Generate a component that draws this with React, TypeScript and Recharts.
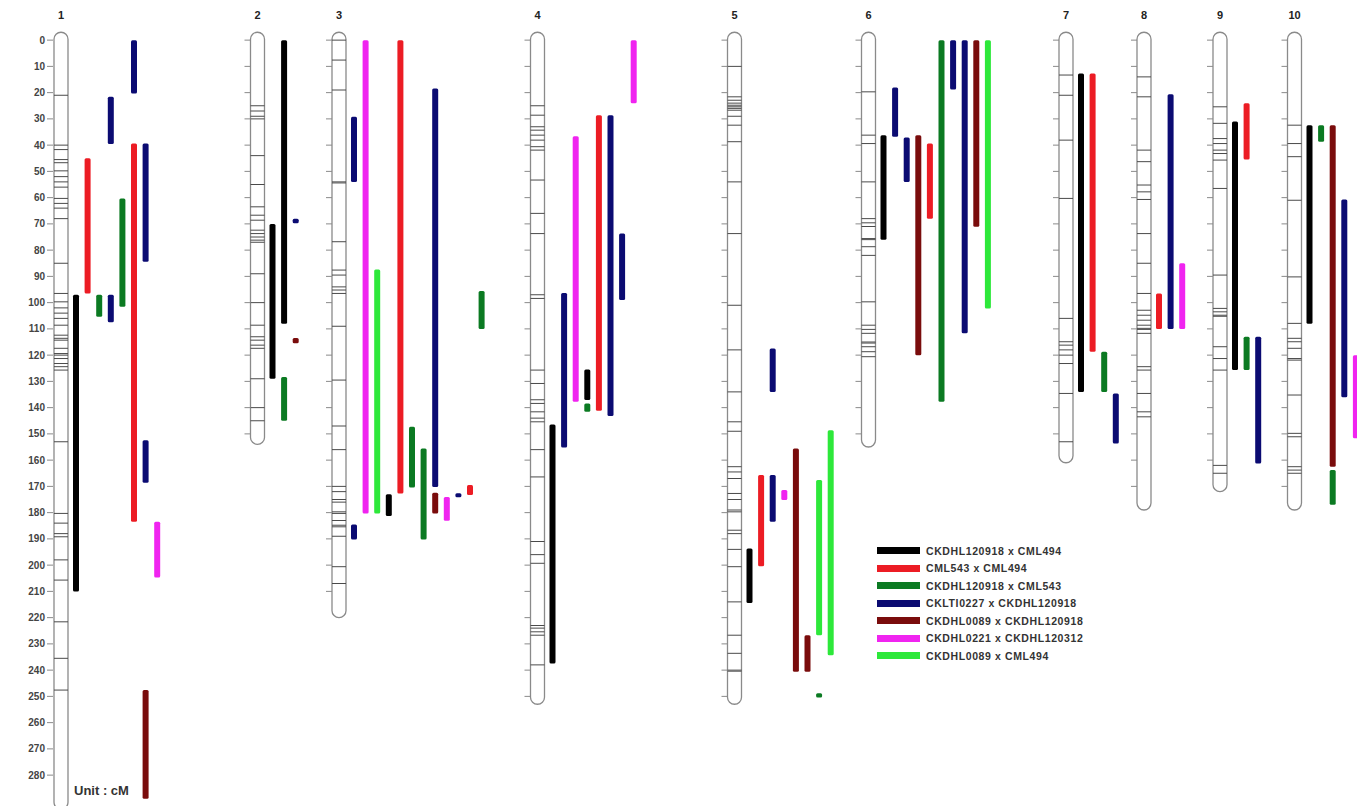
import React from 'react';
import { ComposedChart, XAxis, YAxis, Scatter, ReferenceArea } from 'recharts';

const CHROMOSOMES = ['1', '2', '3', '4', '5', '6', '7', '8', '9', '10'];
const CHROM_CENTER = [61, 257.5, 339, 537.5, 734.5, 868.5, 1066, 1144, 1220, 1294.5];
const CHROM_LENGTH = [290, 151, 217, 250, 250, 152, 158, 176, 169, 176];

const AXIS_TICKS = [
  0, 10, 20, 30, 40, 50, 60, 70, 80, 90, 100, 110, 120, 130, 140, 150, 160, 170, 180, 190, 200, 210, 220, 230,
  240, 250, 260, 270, 280,
];

// marker positions (cM) on each linkage group
const MARKERS: number[][] = [
  [21, 40, 41.7, 45.5, 46.7, 49.8, 52, 54, 56, 60.3, 62.2, 64, 68, 85, 96.5, 99.7, 102, 104, 106, 108.6, 112.4, 113.6,
    114.3, 117.4, 119.4, 120, 121.3, 123.2, 124.4, 125.7, 153, 180.3, 184, 188, 189.2, 198, 205.7, 221.6, 235.5, 247.6],
  [25, 27, 29, 30, 44, 55, 63.5, 66.7, 68.6, 72.4, 73.7, 75, 76.2, 77, 89, 100, 108.6, 113, 114.3, 116.2, 117.4, 129,
    140, 145],
  [0, 7.6, 19, 54, 54.4, 76.8, 87.6, 89.5, 94, 95.2, 96.5, 109, 129.5, 147, 156, 170, 172, 175, 176, 179.7, 180.3, 183,
    184.8, 185.4, 189, 200.6, 207],
  [25, 28.6, 33, 34.3, 36.2, 38.1, 40.6, 41.9, 53.3, 66, 73.7, 97, 98.4, 125.7, 130.8, 137, 138.4, 141.6, 144, 145.4,
    156, 166.4, 191, 196, 199.3, 223, 224, 225.4, 226.7, 238],
  [10, 21.6, 22.9, 24, 24.8, 25.4, 26, 26.7, 29, 32.4, 38.7, 54, 73.7, 101, 118, 134, 145.4, 149, 162.5, 164.5, 167,
    172.7, 175, 179, 179.7, 186.7, 188, 194, 200.6, 214, 226.7, 233.6, 240, 240.4],
  [19.7, 36.2, 39.4, 54, 68, 69.6, 71, 75.6, 76, 78.7, 82, 99.7, 108.6, 110.2, 111.7, 115, 115.4, 116.8, 118.7, 120.6],
  [13.3, 21, 38.1, 60.3, 106, 114.9, 116.2, 118, 120, 123.2, 134.6, 153],
  [14, 21.6, 41.9, 46.3, 55.2, 57.8, 60.7, 73.7, 85, 96.5, 102.9, 104.8, 106.7, 108.6, 109.8, 110.2, 111.7, 124.4,
    125.7, 134.6, 141.6, 143.5],
  [25.4, 31.7, 37.5, 39.4, 41.9, 43.2, 45.7, 56.5, 89.5, 102.2, 103.5, 104.8, 105.2, 116.8, 121.3, 125.7, 162, 165],
  [32.4, 39.4, 44.4, 61, 90.2, 107.9, 113.6, 114.9, 117.4, 121.3, 121.9, 135.2, 149.8, 151.1, 162.5, 163.8, 165],
];

const CROSS_NAMES = [
  'CKDHL120918 x CML494',
  'CML543 x CML494',
  'CKDHL120918 x CML543',
  'CKLTI0227 x CKDHL120918',
  'CKDHL0089 x CKDHL120918',
  'CKDHL0221 x CKDHL120312',
  'CKDHL0089 x CML494',
];
const CROSS_COLORS = ['#000000', '#ec1c24', '#0b7a22', '#0b0b72', '#7a0c0c', '#f024f0', '#2de83a'];

// [chromosome, column, start cM, end cM]
const QTL_CROSS1 = [
  [1, 0, 97, 210], [2, 0, 70, 129], [2, 1, 0, 108], [3, 3, 173, 181.3], [4, 3, 125.5, 137.1], [4, 0, 146.4, 237.5],
  [5, 0, 193.7, 214.4], [6, 0, 36.2, 76], [7, 0, 12.7, 134], [9, 0, 31, 125.7], [10, 0, 32.4, 108],
];
const QTL_CROSS2 = [
  [1, 1, 45, 96.5], [1, 5, 39.4, 183.5], [3, 4, 0, 172.7], [3, 10, 169.5, 173.3], [4, 4, 28.6, 141.2],
  [5, 1, 165.7, 200.4], [6, 4, 39.4, 68], [7, 1, 12.7, 118.7], [8, 0, 96.5, 110], [9, 1, 24, 45.5],
];
const QTL_CROSS3 = [
  [1, 2, 97, 105.4], [1, 4, 60.3, 101.6], [2, 1, 128.3, 145], [3, 11, 95.6, 110], [3, 5, 147.3, 170.4],
  [3, 6, 155.6, 190.2], [4, 3, 138.4, 141.6], [5, 6, 248.8, 250.4], [6, 5, 0, 137.8], [7, 2, 118.7, 134],
  [9, 1, 113, 125.7], [10, 1, 32.4, 38.7], [10, 2, 163.8, 177],
];
const QTL_CROSS4 = [
  [1, 3, 21.6, 39.6], [1, 3, 97, 107.5], [1, 5, 0, 20.3], [1, 6, 39.4, 84.4], [1, 6, 152.4, 168.6], [2, 2, 68, 69.8],
  [3, 0, 29.2, 54], [3, 7, 18.4, 170.2], [3, 0, 184.5, 190.2], [3, 9, 172.6, 174], [4, 5, 28.6, 143.2],
  [4, 6, 73.7, 99], [4, 1, 96.3, 155.2], [5, 2, 117.5, 134], [5, 2, 165.7, 183.5], [6, 1, 18, 36.8],
  [6, 2, 37.1, 54], [6, 6, 0, 18.8], [6, 7, 0, 111.7], [7, 3, 134.6, 153.7], [8, 1, 20.6, 110], [9, 2, 113, 161.3],
  [10, 3, 60.7, 136],
];
const QTL_CROSS5 = [
  [1, 6, 247.6, 289], [2, 2, 113.5, 115.5], [3, 7, 172.4, 180.3], [5, 4, 155.6, 240.6], [5, 5, 226.7, 240.6],
  [6, 3, 36.2, 120], [6, 8, 0, 71.1], [10, 2, 32.4, 162.5],
];
const QTL_CROSS6 = [
  [1, 7, 183.5, 204.7], [3, 1, 0, 180.3], [3, 8, 174, 183.1], [4, 7, 0, 24], [4, 2, 36.6, 137.8],
  [5, 3, 171.4, 175.2], [8, 2, 85, 110], [10, 4, 120, 151.7],
];
const QTL_CROSS7 = [
  [3, 2, 87.4, 180.3], [5, 6, 167.6, 226.7], [5, 7, 148.6, 234.3], [6, 9, 0, 102.2],
];
const QTLS = [QTL_CROSS1, QTL_CROSS2, QTL_CROSS3, QTL_CROSS4, QTL_CROSS5, QTL_CROSS6, QTL_CROSS7];

const HALF = 7;
const colX = (chrom: number, col: number) => CHROM_CENTER[chrom - 1] + 15 + col * 11.6;

const markerPoints = MARKERS.flatMap((list, i) => list.map((y) => ({ x: CHROM_CENTER[i], y })));
const scalePoints = CHROM_LENGTH.flatMap((len, i) =>
  i === 0
    ? []
    : Array.from({ length: Math.floor(len / 10) + 1 }, (_, k) => ({ x: CHROM_CENTER[i], y: k * 10 })),
);

const MarkerShape = (p: any) => (
  <line x1={p.cx - HALF} x2={p.cx + HALF} y1={p.cy} y2={p.cy} stroke="#4a4a4a" strokeWidth={1} />
);
const ScaleShape = (p: any) => (
  <line x1={p.cx - HALF - 6} x2={p.cx - HALF} y1={p.cy} y2={p.cy} stroke="#8a8a8a" strokeWidth={1} />
);

function LegendBox() {
  return (
    <div
      style={{
        position: 'absolute',
        left: 877,
        top: 542,
        fontFamily: 'Arial, "Liberation Sans", sans-serif',
      }}
    >
      {CROSS_NAMES.map((name, i) => (
        <div key={name} style={{ display: 'flex', alignItems: 'center', height: 17.5 }}>
          <span style={{ width: 43, height: 7, background: CROSS_COLORS[i], display: 'inline-block', marginRight: 6 }} />
          <span style={{ fontSize: 10.5, fontWeight: 'bold', color: '#333', letterSpacing: 0.6 }}>{name}</span>
        </div>
      ))}
    </div>
  );
}

export default function App() {
  return (
    <div style={{ position: 'absolute', left: 0, top: 0, width: 1357, height: 806, background: '#fff' }}>
      <ComposedChart width={1357} height={806} margin={{ top: 0, right: 0, bottom: 2, left: 0 }}>
        <XAxis
          type="number"
          dataKey="x"
          orientation="top"
          domain={[53, 1357]}
          allowDataOverflow
          ticks={CHROM_CENTER}
          interval={0}
          tickFormatter={(v) => CHROMOSOMES[CHROM_CENTER.indexOf(v)]}
          axisLine={false}
          tickLine={false}
          height={27}
          tick={{ fontSize: 11, fontWeight: 'bold', fill: '#222', fontFamily: 'Arial' }}
        />
        <YAxis
          type="number"
          dataKey="y"
          reversed
          domain={[-5, 291]}
          allowDataOverflow
          ticks={AXIS_TICKS}
          interval={0}
          width={53}
          tickSize={6}
          axisLine={false}
          tickLine={{ stroke: '#8a8a8a' }}
          tick={{ fontSize: 10, fontWeight: 'bold', fill: '#444', fontFamily: 'Arial' }}
        />
        {CHROM_CENTER.map((c, i) => (
          <ReferenceArea
            key={`chr-${i}`}
            x1={c - HALF}
            x2={c + HALF}
            y1={-3}
            y2={CHROM_LENGTH[i] + 3}
            ifOverflow="visible"
            shape={(p: any) => (
              <rect x={p.x} y={p.y} width={p.width} height={p.height} rx={HALF} ry={HALF} fill="none" stroke="#8a8a8a" strokeWidth={1.3} />
            )}
          />
        ))}
        <Scatter data={markerPoints} shape={MarkerShape} isAnimationActive={false} />
        <Scatter data={scalePoints} shape={ScaleShape} isAnimationActive={false} />
        {QTLS.map((list, ci) =>
          list.map(([chrom, col, from, to], k) => (
            <ReferenceArea
              key={`q-${ci}-${k}`}
              x1={colX(chrom, col) - 3}
              x2={colX(chrom, col) + 3}
              y1={from}
              y2={to}
              ifOverflow="visible"
              shape={(p: any) => (
                <rect x={p.x} y={p.y} width={p.width} height={Math.max(p.height, 4)} rx={1.5} fill={CROSS_COLORS[ci]} />
              )}
            />
          )),
        )}
      </ComposedChart>
      <LegendBox />
      <div
        style={{
          position: 'absolute',
          left: 74,
          top: 783,
          fontFamily: 'Arial, "Liberation Sans", sans-serif',
          fontSize: 13,
          fontWeight: 'bold',
          color: '#333',
        }}
      >
        Unit : cM
      </div>
    </div>
  );
}
